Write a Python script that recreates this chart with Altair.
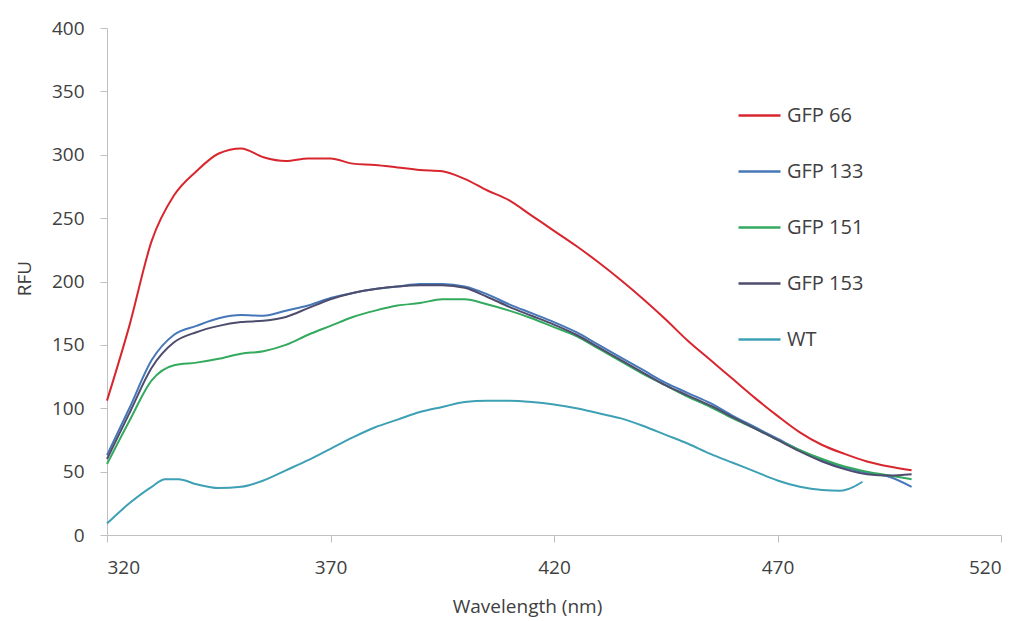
import altair as alt
import pandas as pd

# ---- data ----
series_names = ["GFP 66", "GFP 133", "GFP 151", "GFP 153", "WT"]
series_colors = ["#d8262f", "#4677b8", "#33aa5e", "#4f4d6e", "#3ea0b4"]

wl_gfp = [320, 325, 330, 335, 340, 345, 350, 355, 360, 365, 370, 375, 380, 385,
          390, 395, 400, 405, 410, 415, 420, 425, 430, 435, 440, 445, 450, 455,
          460, 465, 470, 475, 480, 485, 490, 495, 500]

gfp66 = [106, 165, 232, 268, 287, 301, 305, 298, 295, 297, 297, 293, 292, 290,
         288, 287, 281, 272, 264, 252, 240, 228, 215, 201, 186, 170, 153, 138,
         123, 108, 94, 81, 71, 64, 58, 54, 51]

gfp133 = [63, 100, 138, 158, 165, 171, 173.5, 173, 177, 181, 187, 191, 194, 196,
          198, 198, 196, 190, 182, 175, 168, 160, 150, 140, 130, 120, 112, 104,
          94, 85, 76, 67, 59, 53, 49, 46, 38]

gfp151 = [56, 90, 122, 134, 136, 139, 143, 145, 150, 158, 165, 172, 177, 181,
          183, 186, 186, 182, 177, 171, 164, 157, 147, 137, 127, 118, 109, 101,
          92, 84, 75, 67, 60, 54, 50, 47, 44]

gfp153 = [60, 96, 132, 152, 160, 165, 168, 169, 172, 179, 186, 191, 194, 196,
          197, 197, 195, 188, 180, 173, 166, 158, 148, 138, 128, 118, 110, 102,
          93, 84, 75, 66, 58, 52, 48, 47, 48]

wl_wt = [320, 325, 330, 333, 336, 340, 345, 350, 355, 360, 365, 370, 375, 380,
         385, 390, 395, 400, 405, 410, 415, 420, 425, 430, 435, 440, 445, 450,
         455, 460, 465, 470, 475, 480, 484, 487, 489]

wt = [9, 25, 38, 44, 44, 40, 37, 38, 43, 51, 59, 68, 77, 85,
      91, 97, 101, 105, 106, 106, 105, 103, 100, 96, 92, 86, 79, 72,
      64, 57, 50, 43, 38, 35.5, 35, 38, 42]

x_ticks = [320, 370, 420, 470, 520]
y_ticks = [0, 50, 100, 150, 200, 250, 300, 350, 400]

rows = []
for name, vals in [("GFP 66", gfp66), ("GFP 133", gfp133),
                   ("GFP 151", gfp151), ("GFP 153", gfp153)]:
    for w, v in zip(wl_gfp, vals):
        rows.append({"series": name, "wavelength": w, "rfu": v})
for w, v in zip(wl_wt, wt):
    rows.append({"series": "WT", "wavelength": w, "rfu": v})
df = pd.DataFrame(rows)

FONT = "Open Sans"
TXT = "#404040"
AX = "#c0c0c0"

chart = alt.Chart(df).mark_line(interpolate="monotone", strokeWidth=2).encode(
    x=alt.X("wavelength:Q",
            scale=alt.Scale(domain=[320, 520], nice=False, zero=False),
            axis=alt.Axis(values=x_ticks, title="Wavelength (nm)", grid=False,
                          domainColor=AX, tickColor=AX, tickSize=7,
                          labelPadding=16, labelFont=FONT, labelFontSize=19,
                          labelColor=TXT, titleFont=FONT, titleFontSize=19,
                          titleFontWeight="normal", titleColor=TXT,
                          titleX=420, titleY=71, titleBaseline="middle")),
    y=alt.Y("rfu:Q",
            scale=alt.Scale(domain=[0, 400], nice=False),
            axis=alt.Axis(values=y_ticks, title="RFU", grid=False,
                          domainColor=AX, tickColor=AX, tickSize=7,
                          labelPadding=16, labelFont=FONT, labelFontSize=19,
                          labelColor=TXT, titleFont=FONT, titleFontSize=19,
                          titleFontWeight="normal", titleColor=TXT,
                          titleX=-83, titleY=250, titleBaseline="middle")),
    color=alt.Color("series:N",
                    scale=alt.Scale(domain=series_names, range=series_colors),
                    sort=series_names,
                    legend=alt.Legend(title=None, orient="none", legendX=630,
                                      legendY=65, symbolType="stroke",
                                      symbolSize=1764, symbolStrokeWidth=2.5,
                                      labelFont=FONT, labelFontSize=20,
                                      labelColor=TXT, labelOffset=5,
                                      rowPadding=23, padding=0)),
    detail="series:N",
).properties(
    width=894, height=507,
    padding={"left": 99, "top": 20, "right": 10, "bottom": 84},
    autosize=alt.AutoSizeParams(type="none"),
).configure(background="white").configure_view(strokeWidth=0, stroke="transparent")

chart.save("out.html", embed_options={"renderer": "svg", "actions": False})
